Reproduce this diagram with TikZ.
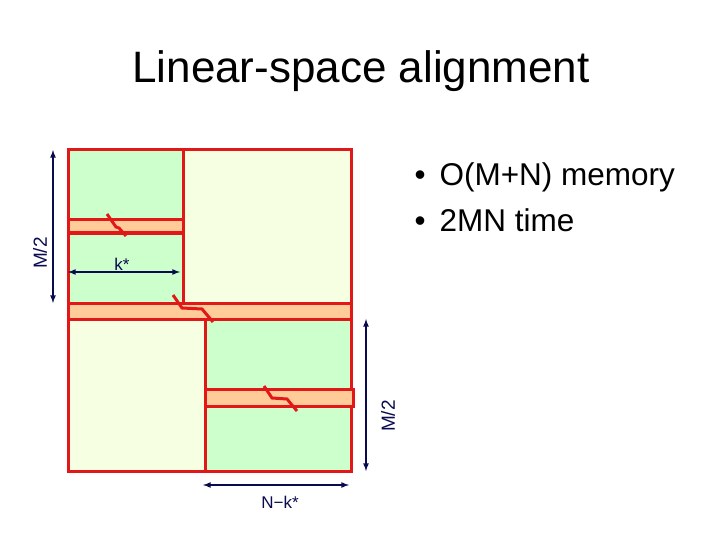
\documentclass[tikz,border=0pt]{standalone}
\usepackage{fontspec}
\setmainfont{Liberation Sans}
\usetikzlibrary{arrows,positioning}
\definecolor{boxred}{RGB}{226,24,24}
\definecolor{cellgreen}{RGB}{204,255,204}
\definecolor{cellpale}{RGB}{246,255,226}
\definecolor{bandorange}{RGB}{255,204,153}
\definecolor{dimblue}{RGB}{10,10,80}
\tikzset{
    cell/.style={draw=boxred, line width=3pt},
    band/.style={draw=boxred, fill=bandorange, line width=3pt},
    cut/.style={draw=boxred, line width=3pt},
    dim/.style={latex-latex, draw=dimblue, line width=1.6pt},
    dimlabel/.style={text=dimblue, inner sep=1pt}
}

\begin{document}
\begin{tikzpicture}[x=1pt, y=-1pt]
    \useasboundingbox (0,0) rectangle (720,540);
    \node[anchor=base, font=\fontsize{44}{50}\selectfont] (title) at (361,83)
      {Linear-space alignment};
    \node[anchor=base west, font=\fontsize{31.5}{36}\selectfont] (mem) at (411,186)
      {\makebox[25pt][l]{•}O(M+N) memory};
    \node[anchor=base west, font=\fontsize{31.5}{36}\selectfont] (time) at (411,232)
      {\makebox[25pt][l]{•}2MN time};

    % the four blocks
    \fill[cellgreen] (68,150) rectangle (183,303);
    \fill[cellpale] (183,150) rectangle (351,303);
    \fill[cellpale] (68,319) rectangle (205,471);
    \fill[cellgreen] (205,319) rectangle (351,471);
    \draw[cell] (68,150) rectangle (183,303);
    \draw[cell] (183,150) rectangle (351,303);
    \draw[cell] (68,319) rectangle (205,471);
    \draw[cell] (205,319) rectangle (351,471);

    % bands
    \draw[band] (68,220) rectangle (183,233);
    \draw[band] (68,303) rectangle (351,319);
    \draw[band] (205,389) rectangle (353,406);

    % cuts
    \draw[cut] (107,214) -- (116,227) -- (119,228) -- (126,236);
    \draw[cut] (173,295) -- (182,308) -- (202,309) -- (213,322);
    \draw[cut] (264,386) -- (272,398) -- (287,399) -- (297,411);

    % dimensions
    \coordinate (ltop) at (53,150);
    \coordinate (lbot) at (53,303);
    \coordinate (kl) at (68,272);
    \coordinate (kr) at (180,272);
    \coordinate (rtop) at (366,319);
    \coordinate (rbot) at (366,471);
    \coordinate (bl) at (203,485);
    \coordinate (br) at (349,485);
    \draw[dim] (ltop) -- (lbot);
    \draw[dim] (kl) -- (kr);
    \draw[dim] (rtop) -- (rbot);
    \draw[dim] (bl) -- (br);

    \node[dimlabel, rotate=90, font=\fontsize{19}{20}\selectfont] (mleft) at (40,253) {M/2};
    \node[dimlabel, rotate=90, font=\fontsize{19}{20}\selectfont] (mright) at (388,416) {M/2};
    \node[dimlabel, anchor=base, font=\fontsize{17}{20}\selectfont] (kstar) at (122,270) {k*};
    \node[dimlabel, anchor=base, font=\fontsize{17}{20}\selectfont] (nk) at (280,508) {N−k*};
\end{tikzpicture}
\end{document}
